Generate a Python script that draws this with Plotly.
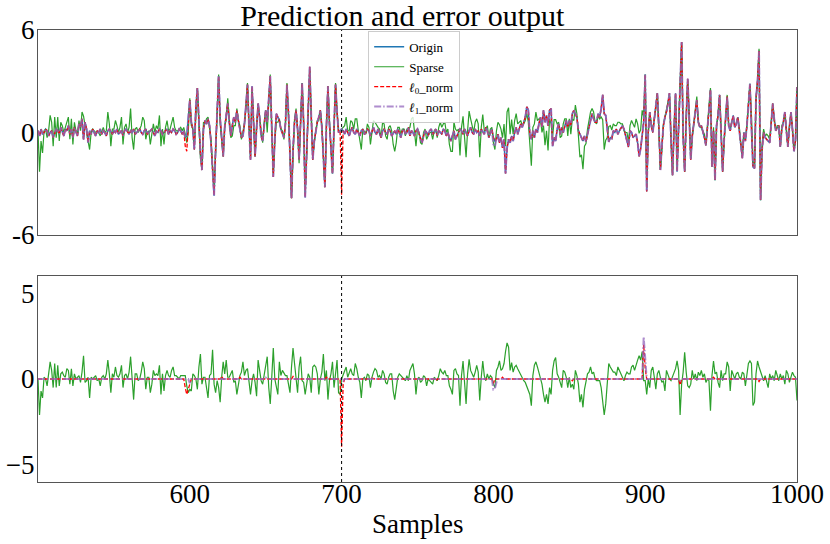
import plotly.graph_objects as go
from plotly.subplots import make_subplots

# sample index on the x axis
samples = list(range(500, 1001))

# original signal (top panel, blue), one value per sample 500..1000
origin_500 = [
    0.1, -0.2, 0.2, -0.1, 0.0, 0.2, 0.1, -0.2, 0.0, 0.1,
    -0.3, 0.0, 0.2, 0.1, -0.1, 0.3, 0.0, -0.2, 0.2, 0.1,
    0.4, -0.1, 0.2, -0.3, 0.3, 0.1, -0.2, 0.5, 0.3, 0.8,
    -0.4, 0.6, 0.2, -0.6, 0.1, -0.1, 0.2, 0.0, -0.2, 0.1,
    0.0, 0.2, -0.1, 0.1, 0.0, -0.2, 0.1, 0.2, 0.0, -0.1,
    0.1, 0.0, 0.2, -0.1, 0.0, 0.1, -0.2, 0.1, 0.2, 0.0,
    -0.1, 0.1, 0.0, 0.2, -0.1, 0.0, 0.1, 0.2, 0.0, -0.1,
    0.1, 0.2, -0.1, 0.0, 0.1, 0.2, 0.0, -0.2, 0.1, 0.0,
    0.2, 0.1, -0.1, 0.0, 0.1, 0.2, -0.1, 0.1, 0.0, 0.2,
    0.1, -0.1, 0.0, 0.2, 0.1, -0.1, 0.1, -0.3, -0.2, 0.8,
]
origin_600 = [
    1.9, 0.6, 0.2, -1.0, 1.5, 2.6, 0.3, -1.2, -2.2, 0.2,
    0.7, 0.5, 0.8, 0.4, -0.6, -2.0, -3.7, -1.0, 1.5, 3.3,
    0.8, -0.5, -1.4, 0.3, 1.0, 1.7, 0.6, -0.2, 0.4, 0.9,
    0.6, 1.3, 0.7, 0.2, -0.3, -0.2, 0.5, 1.6, 2.8, 0.4,
    -1.6, 2.7, 0.8, -1.4, 0.2, 1.7, 0.9, -0.2, -0.5, 0.4,
    1.3, 0.6, 1.8, 3.3, 0.2, -2.6, -0.4, 1.1, 0.9, 0.7,
    0.2, -0.1, -0.3, 0.5, 2.8, 1.2, -1.5, -3.85, -1.0, 0.6,
    1.3, 0.2, -1.6, 0.9, 2.9, 0.5, -3.8, -1.2, 1.5, 3.85,
    1.0, -1.6, -0.5, 0.2, 0.6, 0.9, 1.3, 0.3, -1.5, -3.2,
    0.4, 2.7, 0.5, -0.8, -2.4, 0.3, 2.8, 1.2, 0.0, 0.1,
]
origin_700 = [
    0.2, 0.1, -0.1, 0.2, 0.0, -0.2, 0.1, 0.3, 0.0, -0.1,
    0.2, 0.0, -0.2, 0.1, 0.2, -0.1, 0.0, 0.2, 0.1, -0.2,
    0.1, 0.3, 0.0, -0.1, 0.2, 0.0, -0.3, 0.1, 0.2, 0.0,
    -0.1, 0.2, 0.1, -0.2, 0.0, 0.1, -0.1, 0.2, 0.0, -0.3,
    0.1, 0.2, -0.1, 0.0, 0.3, -0.2, 0.1, 0.0, -0.2, 0.1,
    0.2, -0.1, -0.4, -0.6, -0.2, 0.1, 0.0, -0.2, 0.1, 0.2,
    -0.1, 0.0, 0.2, -0.2, 0.1, 0.0, -0.1, 0.2, 0.1, -0.2,
    0.0, -0.3, -0.5, -0.2, 0.1, -0.4, -0.2, 0.0, 0.2, 0.1,
    -0.1, 0.2, 0.0, -0.2, 0.1, 0.3, 0.0, -0.1, 0.2, 0.0,
    0.1, -0.2, 0.2, 0.0, -0.1, 0.3, 0.1, -0.3, 0.0, 0.2,
    -0.3, -0.5, -0.4, -0.1, -0.6, -0.3, -0.9, -0.4, -2.4, -0.9,
    -0.4, -0.6, -0.2, -0.5, 0.0, 0.3, -0.1, 0.2, 0.5, 0.3,
    0.6, 0.9, 1.5, 1.3, -0.1, -0.4, 0.1, -0.3, 0.2, 0.0,
    0.5, 0.9, 0.3, 1.3, 0.6, 1.0, 0.4, 1.3, 1.4, -0.8,
    -0.3, -0.5, 0.2, 0.5, -0.1, 0.3, 0.0, 0.4, 0.7, 0.3,
    0.7, 0.4, 1.1, 1.3, 1.1, 0.9, 0.1, -0.1, -0.4, -0.5,
    -0.2, -0.55, -0.1, 0.3, 0.5, 1.1, 0.8, 0.6, 0.6, 1.1,
    0.9, 1.4, 2.2, 1.1, 1.0, 0.2, -0.55, -0.3, -0.35, 0.1,
]
origin_880 = [
    0.0, 0.2, -0.1, 0.1, 0.3, 0.4, 0.2, -0.2, -0.4, -0.85,
    0.1, 0.0, -0.3, -0.2, -0.1, -0.6, -1.4, -0.95, -0.3, 0.6,
]
origin_900 = [
    3.4, -3.45, 0.0, 1.2, 0.4, 0.0, 0.8, 1.5, 2.3, 0.3,
    -2.2, -0.8, 0.4, 0.9, 1.2, 1.7, 2.3, -0.4, -2.5, 0.2,
    2.3, -2.3, 0.5, 2.0, 5.3, -0.2, -2.3, 0.8, 3.15, 0.9,
    -1.6, -0.2, 0.5, 1.0, 1.9, 0.6, 0.3, 0.4, 0.1, -0.3,
    -0.75, 0.6, 1.3, 2.5, -2.0, 0.1, -2.8, 0.4, 1.0, 2.2,
    0.2, -2.3, -0.4, 0.9, 2.1, 0.4, 0.1, 0.6, 1.0, 0.3,
    0.5, 0.9, 0.2, -0.6, -1.5, 0.0, -0.5, 0.4, 1.5, 2.85,
    0.3, -2.0, -2.1, 2.0, 3.0, 4.8, -3.97, -1.0, 0.0, -0.3,
    -0.4, -0.5, -0.6, 0.5, 1.7, 0.8, 0.1, 0.3, 0.4, -0.85,
    0.2, 0.6, 1.2, 0.1, -0.85, 0.3, 1.2, 0.2, -1.1, -0.5,
    2.65,
]

# sparse error (bottom panel, green), samples 500..1000
err_sparse = [
    0.0, -2.1, -0.7, -1.1, 0.1, 0.0, -0.4, 0.3, 1.0, 0.5,
    -0.5, 0.9, -0.5, 0.8, -0.4, 0.3, 0.4, 0.2, 0.1, 0.6,
    0.5, -0.3, 0.6, -0.4, 0.3, 0.0, 0.1, 0.2, -0.2, 0.4,
    1.35, -0.2, -0.1, 0.1, -1.1, 0.1, 0.0, 0.1, 0.2, -0.1,
    0.0, -0.4, 0.1, 0.2, 0.0, 0.3, 1.1, 0.3, -0.8, 0.3,
    0.1, 0.7, 0.2, 0.1, 0.3, 0.8, -0.5, 0.2, 0.3, 0.0,
    0.4, 1.3, -0.3, -1.2, 0.3, 0.3, -0.1, 0.0, 0.4, 1.0,
    0.6, -0.6, 0.1, 0.1, -0.8, -0.3, 0.5, 0.2, 0.3, 0.2,
    0.8, -0.9, 0.3, -0.7, 0.2, 0.5, 0.2, 0.1, 0.5, 0.7,
    0.2, 0.2, 0.1, 0.0, 0.2, 0.2, 0.2, 0.2, -0.4, -0.8,
    -0.6, -0.7, 0.3, 0.2, 0.0, -0.6, 0.7, 1.45, -0.3, 0.1,
    0.1, -0.5, -1.1, 0.2, 0.3, 1.7, -0.3, -0.8, -0.1, -0.5,
    -1.35, 0.1, 1.0, 0.3, 1.1, 0.1, 0.1, 0.3, 0.5, -0.2,
    -0.1, -0.9, -0.3, 0.2, 0.4, 1.0, 0.2, 0.5, 0.6, -0.2,
    -0.9, -0.1, 0.3, -0.2, -1.0, 1.1, 0.4, -0.1, -0.3, 0.2,
    0.6, 1.3, -0.5, -1.45, 0.1, 1.8, 0.0, -0.6, -0.9, 1.0,
    0.2, 0.5, 0.3, 0.2, 0.2, -0.3, -0.8, 0.7, 1.8, 0.9,
    -0.1, -0.8, 0.7, 1.3, -0.1, -0.2, -0.9, -0.1, 0.3, 0.1,
    -0.8, 0.7, 0.8, 0.7, 0.3, -0.9, 0.0, 0.4, 1.45, -0.1,
    0.5, -1.2, -0.1, 0.3, 1.0, -0.5, 0.3, 1.1, -0.8, -0.9,
    0.0, 0.2, 0.5, 0.7, 0.1, 0.3, 0.6, 0.3, 0.2, 0.9,
    0.6, 0.1, -0.2, -1.1, 0.0, 0.1, -0.1, 0.3, 0.2, -0.5,
    0.1, 0.4, 0.6, 0.5, 0.1, 0.2, 0.0, 0.5, 0.3, -0.2,
    -0.3, 0.1, 0.3, 0.3, -0.7, -1.2, -0.5, 0.1, 0.3, 0.2,
    0.1, 0.0, -0.1, 0.2, -0.1, 0.5, 0.7, 0.9, 0.3, -0.9,
    0.0, 0.1, -0.2, -0.1, 0.2, 0.1, -0.4, 0.0, -0.1, -0.2,
    -0.3, 0.1, 0.0, -0.1, 0.2, 0.6, 0.4, 0.3, 0.5, 0.2,
    0.2, -0.4, -0.6, -0.9, 0.5, 0.6, 0.3, 0.2, -1.55, 0.2,
    1.05, -0.5, -1.45, 0.3, 1.15, 0.5, 0.3, 0.1, 0.4, 0.8,
    0.4, -1.25, 0.1, 1.05, 0.2, -0.1, 0.3, 0.0, 0.2, 0.1,
    -0.3, -0.5, 0.5, 0.7, 1.05, 0.5, 0.6, 0.9, 1.6, 2.1,
    1.85, 0.5, 0.95, 0.4, 0.7, 0.8, 0.6, 0.4, 0.2, 0.1,
    -0.1, -0.2, -0.4, -0.7, -0.9, -1.55, 0.2, 0.8, 1.0, 0.7,
    0.3, -0.1, -0.3, -0.9, -1.35, -0.9, -1.45, -0.5, -0.9, 0.5,
    1.05, 1.25, 0.3, 0.1, -0.2, -0.5, 0.5, 0.4, 0.1, -0.5,
    0.1, -0.5, -0.3, -0.6, 0.5, 0.2, -0.3, -1.35, -0.9, -1.65,
    -0.6, -0.1, 0.3, 0.4, 0.7, 0.3, 0.4, 0.0, -0.1, -0.1,
    -0.1, -0.5, -1.45, -2.1, -1.45, -0.5, 0.9, 0.7, 0.5, 0.4,
    0.4, 0.2, 0.7, 0.5, 0.2, 0.1, -0.1, 0.2, 0.4, 0.3,
    0.3, 0.7, 0.8, 0.5, 0.9, 1.1, 1.35, 1.1, 1.6, -0.1,
    -0.1, -0.9, 0.0, -0.5, 0.5, 0.7, 0.1, -0.6, 0.3, 0.5,
    0.1, -0.2, -0.1, -0.7, 0.5, 0.2, 0.0, -0.1, 0.1, 0.3,
    0.6, 1.05, 0.5, -2.1, -0.3, 0.4, 1.55, 0.4, -0.4, -0.5,
    -0.3, 0.5, 0.0, 0.3, -0.1, 0.4, 0.2, 0.5, 0.1, 0.3,
    -0.2, 0.0, -0.1, -1.85, 0.2, 1.05, 0.3, 0.4, -0.2, -0.5,
    0.5, -0.1, 0.3, 0.3, 1.0, 0.7, -0.7, 0.5, 0.3, 0.0,
    0.3, 0.4, 0.1, 0.0, 0.4, 0.3, -0.4, 0.3, 0.9, 1.05,
    0.9, -1.55, -1.35, 0.3, 1.05, 0.7, 0.4, 0.1, -0.1, 0.2,
    -0.1, -0.5, 0.3, 0.0, 0.2, -0.1, 0.5, 0.2, -0.1, 0.3,
    0.0, 0.2, -0.3, 0.5, 0.3, -0.2, 0.1, 0.4, 0.2, 0.1,
    -1.25,
]

# where the Sparse prediction tracks the signal closely (600-699, 899-1000)
sparse_dev_600 = [
    0.1, -0.2, 0.0, 0.3, -0.1, 0.0, 0.2, -0.3, 0.1, 0.4,
    -0.2, 0.3, 0.1, -0.1, 0.2, 0.0, 0.5, -0.2, 0.0, 0.1,
    -0.3, 0.2, 0.0, 0.1, -0.2, 0.3, 0.0, -0.1, -0.6, -0.5,
    -0.2, 0.1, 0.0, 0.2, -0.1, 0.3, 0.0, -0.2, 0.1, 0.0,
    0.2, -0.1, 0.1, 0.0, 0.3, -0.2, 0.0, 0.1, -0.1, 0.2,
    0.0, -0.6, -0.4, 0.1, 0.0, 0.2, -0.1, -0.5, -0.3, 0.1,
    0.0, 0.2, -0.1, 0.0, 0.1, -0.2, 0.3, 0.0, -0.1, 0.2,
    0.1, 0.0, -0.2, 0.1, 0.0, 0.2, 0.3, -0.1, 0.0, -0.2,
    0.1, 0.2, -0.1, 0.0, 0.1, -0.2, 0.0, 0.1, 0.2, 0.0,
    -0.1, 0.0, 0.2, 0.1, 0.0, -0.2, 0.1, 0.0, 0.1, 0.0,
]
sparse_dev_899 = [
    0.3, 0.0, 0.2, -0.1, 0.0, 0.1, 0.2, 0.0, -0.1, 0.0,
    0.1, 0.0, -0.2, 0.1, 0.0, 0.2, 0.0, -0.1, 0.1, 0.0,
    0.0, -0.1, 0.2, 0.0, -0.2, 0.0, 0.1, 0.0, 0.2, -0.1,
    0.0, 0.1, -0.1, 0.0, 0.3, 0.2, 0.0, 0.1, -0.1, 0.0,
    0.2, 0.0, -0.1, 0.0, 0.1, 0.0, 0.2, 0.0, -0.1, 0.1,
    0.0, 0.1, 0.0, -0.2, 0.0, 0.1, 0.0, 0.2, 0.0, -0.1,
    0.1, 0.0, 0.0, 0.1, -0.1, 0.2, 0.0, 0.1, 0.0, -0.1,
    0.0, 0.7, 0.3, 0.0, -0.1, 0.0, 0.1, 0.0, 0.3, 0.2,
    0.1, 0.3, 0.3, 0.2, 0.1, 0.0, -0.1, 0.0, 0.1, 0.0,
    0.0, 0.2, 0.0, -0.1, 0.1, 0.0, 0.1, -0.1, 0.0, 0.1,
    0.0, 0.0,
]

# deviations of the l0 / l1 predictions from the signal (top panel)
l0_dev_top = {597: -0.5, 598: -0.9, 599: -0.3, 700: -3.85}
l1_dev_top = {800: -0.45, 801: -0.3}

# l0 / l1 errors (bottom panel), zero elsewhere
err_l0_spikes = {597: -0.5, 598: -0.9, 599: -0.6, 600: -0.2, 621: 0.15, 633: 0.1,
                 668: 0.15, 690: 0.1, 700: -3.95, 701: -0.3, 720: 0.05, 762: -0.1,
                 800: -0.25, 806: 0.1, 852: -0.1, 899: 2.0, 900: 0.6, 923: -0.35,
                 945: 0.1, 975: -0.15}
err_l1_spikes = {600: -0.25, 650: 0.08, 701: -0.1, 800: -0.6, 801: -0.55, 802: -0.2,
                 899: 2.45, 900: 1.0, 923: -0.1}

origin = origin_500 + origin_600 + origin_700 + origin_880 + origin_900
sparse_dev = err_sparse[0:100] + sparse_dev_600 + err_sparse[200:399] + sparse_dev_899
sparse = [o + d for o, d in zip(origin, sparse_dev)]
l0_pred = [o + l0_dev_top.get(s, 0.0) for s, o in zip(samples, origin)]
l1_pred = [o + l1_dev_top.get(s, 0.0) for s, o in zip(samples, origin)]
err_l0 = [err_l0_spikes.get(s, 0.0) for s in samples]
err_l1 = [err_l1_spikes.get(s, 0.0) for s in samples]

FONT = "Liberation Serif, Times New Roman, serif"
BLUE, GREEN, RED, PURPLE = "#1f77b4", "#2ca02c", "red", "#9467bd"
L0_NAME = "<b><i>ℓ</i></b><sub>0</sub>_norm"
L1_NAME = "<b><i>ℓ</i></b><sub>1</sub>_norm"

fig = make_subplots(rows=2, cols=1)

# TOP PANEL: predictions
fig.add_trace(go.Scatter(x=samples, y=origin, mode="lines", name="Origin",
                         line=dict(color=BLUE, width=1.5)), 1, 1)
fig.add_trace(go.Scatter(x=samples, y=sparse, mode="lines", name="Sparse",
                         line=dict(color=GREEN, width=1.2)), 1, 1)
fig.add_trace(go.Scatter(x=samples, y=l0_pred, mode="lines", name=L0_NAME,
                         line=dict(color=RED, width=1.3, dash="4px,2px")), 1, 1)
fig.add_trace(go.Scatter(x=samples, y=l1_pred, mode="lines", name=L1_NAME, opacity=0.75,
                         line=dict(color=PURPLE, width=2, dash="7px,2px,1.5px,2px")), 1, 1)

# BOTTOM PANEL: errors
fig.add_trace(go.Scatter(x=samples, y=err_sparse, mode="lines", showlegend=False,
                         line=dict(color=GREEN, width=1.2)), 2, 1)
fig.add_trace(go.Scatter(x=samples, y=err_l0, mode="lines", showlegend=False,
                         line=dict(color=RED, width=1.3, dash="4px,2px")), 2, 1)
fig.add_trace(go.Scatter(x=samples, y=err_l1, mode="lines", showlegend=False, opacity=0.75,
                         line=dict(color=PURPLE, width=2, dash="7px,2px,1.5px,2px")), 2, 1)

# dotted marker at sample 700 in both panels
for xref, yref in (("x", "y domain"), ("x2", "y2 domain")):
    fig.add_shape(type="line", xref=xref, yref=yref, x0=700, x1=700, y0=0, y1=1,
                  line=dict(color="black", width=1, dash="dot"))

axis_style = dict(showline=True, linecolor="#555", linewidth=1, mirror=True,
                  showgrid=False, zeroline=False, ticks="", automargin=False,
                  tickfont=dict(family=FONT, size=27, color="black"))

fig["layout"]["xaxis"].update(domain=[0, 1], range=[500, 1000], showticklabels=False,
                              **axis_style)
fig["layout"]["xaxis2"].update(domain=[0, 1], range=[500, 1000], ticklabelstandoff=-12,
                               tickvals=[600, 700, 800, 900, 1000], **axis_style)
fig["layout"]["yaxis"].update(domain=[0.5465, 1], range=[-6, 6], ticklabelstandoff=-3,
                              tickvals=[-6, 0, 6], ticktext=["-6", "0", "6"], **axis_style)
fig["layout"]["yaxis2"].update(domain=[0, 0.4558], range=[-6, 6], ticklabelstandoff=-3,
                               tickvals=[-5, 0, 5], ticktext=["\u22125", "0", "5"],
                               **axis_style)

fig.add_annotation(text="Samples", x=0.5, xref="paper", y=-0.093, yref="paper",
                   xanchor="center", yanchor="middle", showarrow=False,
                   font=dict(family=FONT, size=27, color="black"))

fig.update_layout(
    width=830, height=544,
    margin=dict(l=38, r=33, t=30, b=62),
    paper_bgcolor="white", plot_bgcolor="white",
    font=dict(family=FONT, color="black"),
    title=dict(text="Prediction and error output", x=0.48, xref="paper", xanchor="center",
               y=0.971, yref="container", yanchor="middle", automargin=False,
               font=dict(family=FONT, size=30, color="black")),
    legend=dict(x=0.435, y=0.998, xanchor="left", yanchor="top",
                bgcolor="rgba(255,255,255,0.8)", bordercolor="#ccc", borderwidth=1,
                font=dict(family=FONT, size=13, color="black"), itemwidth=30,
                tracegroupgap=0),
)

# drop the page's default body margin so the figure sits at the window's corner
fig.write_html("out.html", config={"displayModeBar": False},
               post_script="document.body.style.margin = '0';")
